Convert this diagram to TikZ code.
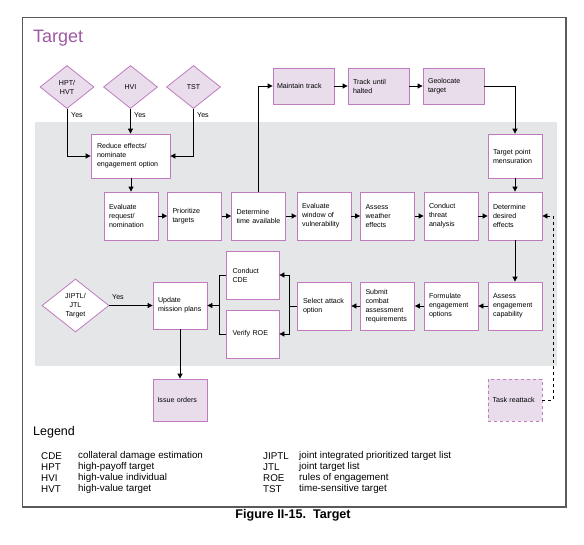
\documentclass[tikz,border=0pt]{standalone}
\usepackage{fontspec}
\setmainfont{Liberation Sans}
\usetikzlibrary{shapes.geometric,arrows.meta,calc}
\definecolor{pborder}{RGB}{192,122,192}
\definecolor{pfill}{RGB}{233,221,236}
\definecolor{ptitle}{RGB}{158,90,162}
\definecolor{band}{RGB}{229,230,231}
\definecolor{framec}{RGB}{90,90,90}
\hyphenpenalty=10000
\exhyphenpenalty=10000
\begin{document}
\begin{tikzpicture}[x=1pt,y=-1pt,
  boxfont/.style={font=\fontsize{7.1}{9}\selectfont},
  box/.style={boxfont,draw=pborder,line width=0.8pt,fill=white,minimum width=54pt,minimum height=48pt,inner sep=0pt,text width=44pt,align=left},
  pbox/.style={box,fill=pfill},
  dia/.style={boxfont,diamond,draw=pborder,line width=0.8pt,fill=pfill,inner sep=0pt,minimum width=54pt,minimum height=43pt,align=center},
  arr/.style={line width=0.8pt,-{Triangle[length=5pt,width=5pt]}},
  ln/.style={line width=0.8pt},
  lbl/.style={boxfont,anchor=west,inner sep=0pt},
  legfont/.style={font=\fontsize{9.8}{11}\selectfont,anchor=west,inner sep=0pt}
]
\useasboundingbox (0,0) rectangle (584,544);
\fill[white] (0,0) rectangle (584,544);
% frame
\draw[framec!60,line width=0.8pt] (22,17) rectangle (566,507);
\draw[framec,line width=1.6pt] (566,17) -- (566,507) -- (22,507);
\draw[framec,line width=0.8pt] (22,507) -- (22,17) -- (566,17);
% band
\fill[band] (35,122) rectangle (557,366);
% title
\node[anchor=west,inner sep=0pt,text=ptitle,font=\fontsize{18}{20}\selectfont] (title) at (33,38) {Target};

% diamonds
\node[dia] (hpt) at (67,87) {HPT/\\HVT};
\node[dia] (hvi) at (130.5,87) {HVI};
\node[dia] (tst) at (193.5,87) {TST};
\node[dia,fill=white,minimum width=67pt,minimum height=53pt] (jiptl) at (75.5,305.5) {JIPTL/\\JTL\\Target};

% boxes
\node[box,minimum width=79pt,minimum height=44pt,text width=67pt] (reduce) at (130.5,156) {Reduce effects/\\nominate\\engagement option};
\node[box] (evalreq) at (131,216) {Evaluate\\request/\\nomination};
\node[box] (prior) at (194.5,216) {Prioritize\\targets};
\node[box] (time) at (258.5,216) {Determine\\time available};
\node[box] (window) at (324,216) {Evaluate\\window of\\vulnerability};
\node[box] (weather) at (387.5,216) {Assess\\weather\\effects};
\node[box] (threat) at (451,216) {Conduct\\threat\\analysis};
\node[box] (desired) at (515,216) {Determine\\desired\\effects};
\node[box,minimum height=44pt] (tpm) at (515,156) {Target point\\mensuration};

\node[pbox,minimum width=61pt,minimum height=36pt,text width=53pt] (maintain) at (303.5,86) {Maintain track};
\node[pbox,minimum width=61pt,minimum height=36pt,text width=51pt] (track) at (378.5,86) {Track until\\halted};
\node[pbox,minimum width=61pt,minimum height=36pt,text width=51pt] (geo) at (453.5,86) {Geolocate\\target};

\node[box] (assess) at (515,306) {Assess\\engagement\\capability};
\node[box] (formulate) at (451,306) {Formulate\\engagement\\options};
\node[box] (submit) at (387.5,306) {Submit\\combat\\assessment\\requirements};
\node[box,text width=42pt] (select) at (324,306) {Select attack\\option};
\node[box,minimum width=53pt,text width=40pt] (cde) at (252.5,275) {Conduct\\CDE};
\node[box,minimum width=53pt,text width=40pt] (roe) at (252.5,334) {Verify ROE};
\node[box,minimum height=47pt] (update) at (180,305.5) {Update\\mission plans};
\node[pbox,minimum height=42pt,text width=45pt] (issue) at (180,400) {Issue orders};
\node[pbox,dashed,minimum height=42pt,text width=45pt] (task) at (515,400) {Task reattack};

% Yes labels
\node[lbl] (y1) at (71,115) {Yes};
\node[lbl] (y2) at (134,115) {Yes};
\node[lbl] (y3) at (197,115) {Yes};
\node[lbl] (y4) at (112,297) {Yes};

% connectors
\draw[arr] (hpt.south) |- (reduce.west);
\draw[arr] (hvi.south) -- (hvi.south |- reduce.north);
\draw[arr] (tst.south) |- (reduce.east);
\draw[arr] (reduce.south -| evalreq.north) -- (evalreq.north);
\draw[arr] (evalreq) -- (prior);
\draw[arr] (prior) -- (time);
\draw[arr] (time) -- (window);
\draw[arr] (window) -- (weather);
\draw[arr] (weather) -- (threat);
\draw[arr] (threat) -- (desired);
\draw[arr] (time.north) |- (maintain.west);
\draw[arr] (maintain) -- (track);
\draw[arr] (track) -- (geo);
\draw[arr] (geo.east) -| (tpm.north);
\draw[arr] (tpm.south) -- (desired.north);
\draw[arr] (desired.south) -- (assess.north);
\draw[arr] (assess) -- (formulate);
\draw[arr] (formulate) -- (submit);
\draw[arr] (submit) -- (select);
\coordinate (j1) at ($(select.west)+(-7,0)$);
\draw[ln] (select.west) -- (j1);
\draw[arr] (j1) |- (cde.east);
\draw[arr] (j1) |- (roe.east);
\coordinate (j2) at ($(update.east)+(12,0)$);
\draw[ln] (cde.west) -| (j2);
\draw[ln] (roe.west) -| (j2);
\draw[arr] (j2) -- (update.east);
\draw[arr] (jiptl.east) -- (update.west);
\draw[arr] (update.south) -- (issue.north);
\draw[arr,dashed] (task.east) -- ++(11,0) |- (desired.east);

% legend
\node[anchor=west,inner sep=0pt,font=\fontsize{12.5}{14}\selectfont] (legend) at (33,432) {Legend};
\node[legfont] (a1) at (41,456) {CDE};
\node[legfont] (a2) at (41,467) {HPT};
\node[legfont] (a3) at (41,478) {HVI};
\node[legfont] (a4) at (41,489) {HVT};
\node[legfont] (d1) at (78,456) {collateral damage estimation};
\node[legfont] (d2) at (78,467) {high-payoff target};
\node[legfont] (d3) at (78,478) {high-value individual};
\node[legfont] (d4) at (78,489) {high-value target};
\node[legfont] (b1) at (263,456) {JIPTL};
\node[legfont] (b2) at (263,467) {JTL};
\node[legfont] (b3) at (263,478) {ROE};
\node[legfont] (b4) at (263,489) {TST};
\node[legfont] (e1) at (299,456) {joint integrated prioritized target list};
\node[legfont] (e2) at (299,467) {joint target list};
\node[legfont] (e3) at (299,478) {rules of engagement};
\node[legfont] (e4) at (299,489) {time-sensitive target};

% caption
\node[inner sep=0pt,font=\fontsize{12.6}{14}\selectfont\bfseries] (caption) at (293,515) {Figure II-15.~~Target};
\end{tikzpicture}
\end{document}
